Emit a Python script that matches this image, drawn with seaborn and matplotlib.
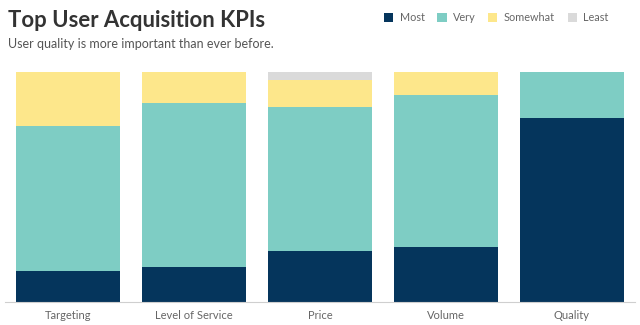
import matplotlib
matplotlib.use("Agg")
import matplotlib.pyplot as plt
from matplotlib.patches import Patch
import seaborn as sns
import pandas as pd
import numpy as np

categories = ["Targeting", "Level of Service", "Price", "Volume", "Quality"]
most = [13.6, 15.2, 22.2, 23.8, 79.9]
very = [62.9, 71.4, 62.7, 66.3, 20.1]
somewhat = [23.5, 13.4, 11.6, 9.9, 0.0]
least = [0.0, 0.0, 3.5, 0.0, 0.0]
series_names = ["Most", "Very", "Somewhat", "Least"]
colors = ["#05355c", "#7ecdc4", "#fde78b", "#dadada"]

sns.set_theme(style="white")
plt.rcParams['font.family'] = ['Lato', 'DejaVu Sans']

fig = plt.figure(figsize=(6.4, 3.25), dpi=100)
ax = fig.add_axes([5/640, 23/325, 630/640, 230/325])

series = [most, very, somewhat, least]
bottom = np.zeros(len(categories))
for name, vals, col in zip(series_names, series, colors):
    df = pd.DataFrame({"cat": categories, "val": vals})
    sns.barplot(data=df, x="cat", y="val", color=col, bottom=bottom,
                width=0.833, ax=ax, linewidth=0, saturation=1)
    bottom = bottom + np.array(vals)

ax.set_xlim(-0.5, 4.5)
ax.set_ylim(0, 100)
ax.set_xlabel("")
ax.set_ylabel("")
ax.set_yticks([])
for s in ["top", "right", "left"]:
    ax.spines[s].set_visible(False)
ax.spines["bottom"].set_color("#cfcfcf")
ax.spines["bottom"].set_linewidth(0.8)
ax.tick_params(axis="x", length=0, pad=6, labelsize=8, labelcolor="#666666")

fig.text(8/640, 1 - 27/325, "Top User Acquisition KPIs", fontsize=15.9,
         fontweight="bold", color="#333333", ha="left", va="baseline")
fig.text(8/640, 1 - 47.5/325, "User quality is more important than ever before.",
         fontsize=9.0, color="#555555", ha="left", va="baseline")

handles = [Patch(facecolor=c, edgecolor="none", label=n) for n, c in zip(series_names, colors)]
leg = fig.legend(handles=handles, ncol=4, loc="center right",
                 bbox_to_anchor=(614/640, 1 - 17.5/325), frameon=False,
                 fontsize=7.8, handlelength=0.85, handleheight=0.85,
                 handletextpad=0.6, columnspacing=1.15, borderpad=0)
for t in leg.get_texts():
    t.set_color("#666666")

fig.savefig("out.png", dpi=100, facecolor="white")
